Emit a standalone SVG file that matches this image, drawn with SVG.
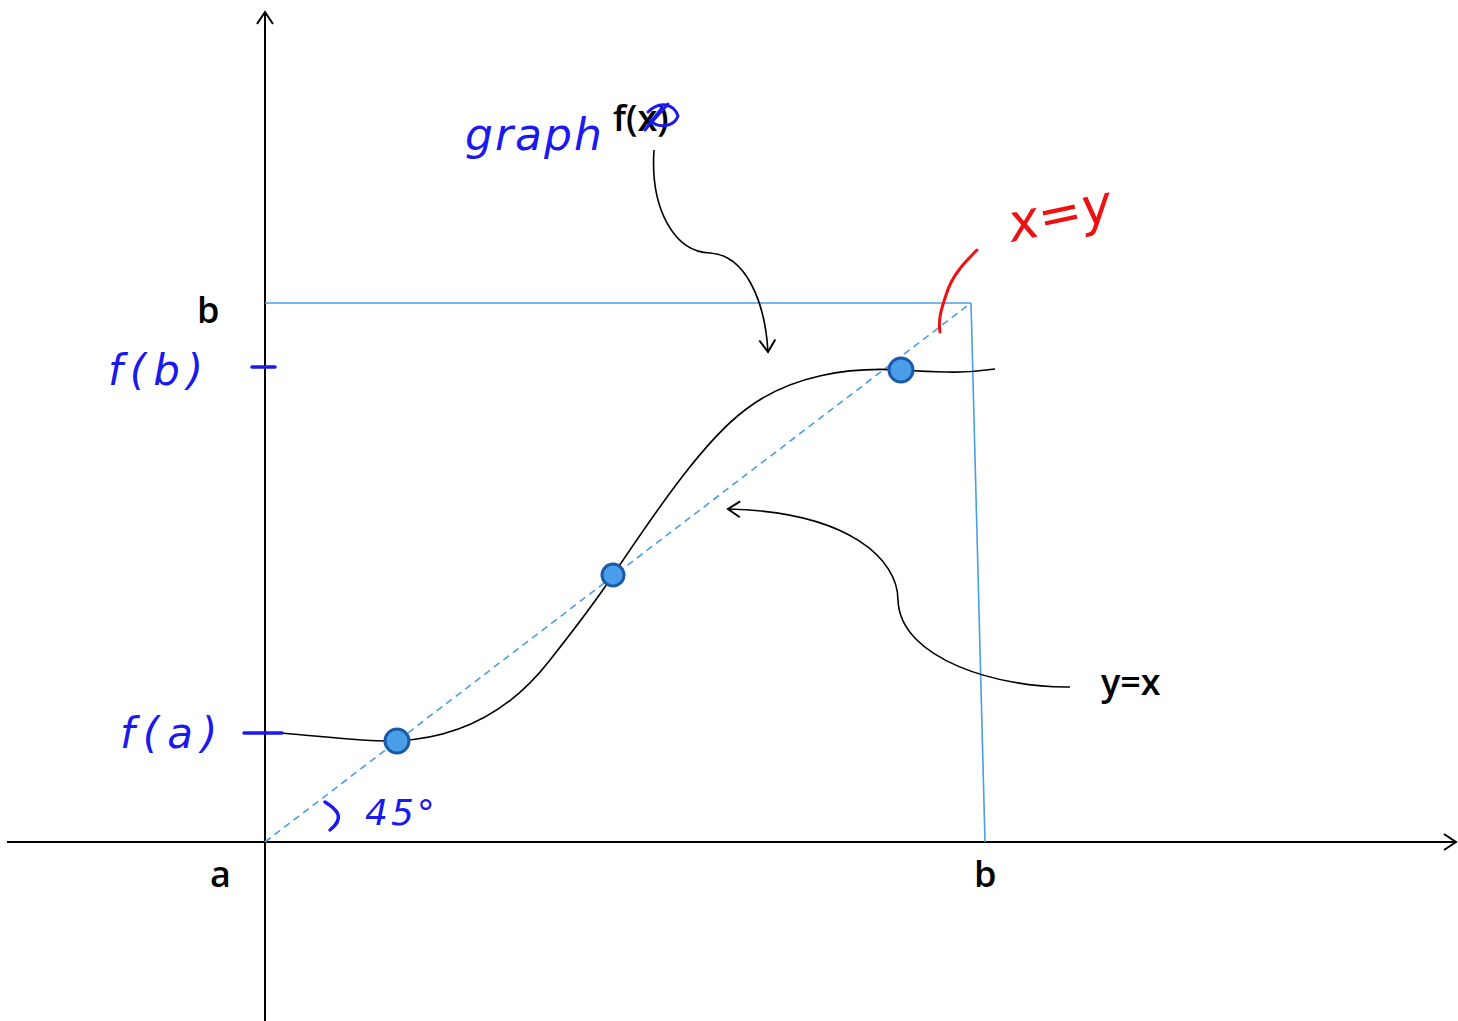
<svg xmlns="http://www.w3.org/2000/svg" width="1458" height="1021" viewBox="0 0 1458 1021">
<style>
.ax{stroke:#000;stroke-width:2;fill:none}
.bl{stroke:#4a9de8;stroke-width:1.6;fill:none}
.cur{stroke:#000;stroke-width:1.6;fill:none}
.pt{fill:#4a9de8;stroke:#1a5aa8;stroke-width:3}
.lbl{font-family:"Open Sans","Liberation Sans",sans-serif;font-size:36px;font-weight:600;fill:#000}
.hw{font-family:"DejaVu Sans","Liberation Sans",sans-serif;fill:#1a1aee;font-style:italic}
.tick{stroke:#1a1aee;stroke-width:3.5;stroke-linecap:round}
</style>
<defs>
<marker id="ah" markerWidth="20" markerHeight="20" refX="14" refY="10" orient="auto" markerUnits="userSpaceOnUse">
<path d="M2,2 L14,10 L2,18" fill="none" stroke="#000" stroke-width="2"/>
</marker>
</defs>
<g id="axes">
<line class="ax" x1="265" y1="1021" x2="265" y2="12" marker-end="url(#ah)"/>
<line class="ax" x1="7" y1="842" x2="1456" y2="842" marker-end="url(#ah)"/>
</g>
<g id="box">
<line class="bl" x1="265" y1="303" x2="971" y2="303"/>
<line class="bl" x1="971" y1="303" x2="985" y2="842"/>
<line class="bl" x1="265" y1="842" x2="971" y2="303" stroke-dasharray="7,5"/>
</g>
<g id="curve">
<path class="cur" d="M 281 733 C 330 737 365 742 397 741 C 460 738 510 712 550 660 C 580 622 598 598 613 575 C 660 505 705 440 745 410 C 790 375 850 367 900 370 C 940 372 960 374 995 369"/>
</g>
<g id="connectors">
<path class="cur" d="M 654 150 C 650 210 675 252 710 253 C 745 255 765 300 768 352" marker-end="url(#ah)"/>
<path class="cur" d="M 1070 687 C 1000 688 900 660 898 600 C 898 560 850 512 728 509" marker-end="url(#ah)"/>
</g>
<g id="points">
<circle class="pt" cx="397" cy="741" r="12"/>
<circle class="pt" cx="613" cy="575" r="11"/>
<circle class="pt" cx="901" cy="370" r="12"/>
</g>
<g id="labels">
<text class="lbl" x="197" y="323">b</text>
<text class="lbl" x="210" y="887">a</text>
<text class="lbl" x="974" y="887">b</text>
<text class="lbl" x="1101" y="695">y=x</text>
<text class="lbl" x="613" y="131">f(x)</text>
</g>
<g id="handwriting">
<path d="M 648 112 C 660 100 674 104 678 116 C 674 127 658 129 650 120 M 650 124 L 668 104 M 645 130 L 662 108" fill="none" stroke="#1a1aee" stroke-width="3" stroke-linecap="round"/>
<text class="hw" x="465" y="150" font-size="44" letter-spacing="2">graph</text>
<text class="hw" x="108" y="385" font-size="42" letter-spacing="7">f(b)</text>
<line class="tick" x1="252" y1="367" x2="275" y2="367"/>
<text class="hw" x="120" y="748" font-size="42" letter-spacing="8">f(a)</text>
<line class="tick" x1="244" y1="733" x2="282" y2="733"/>
<path d="M 325 802 C 338 810 345 818 330 830" fill="none" stroke="#1a1aee" stroke-width="3.5" stroke-linecap="round"/>
<text class="hw" x="365" y="825" font-size="36" letter-spacing="3">45°</text>
<text x="1012" y="242" font-family="DejaVu Sans,sans-serif" font-style="italic" font-size="52" fill="#ee1111" transform="rotate(-12 1012 242)">x=y</text>
<path d="M 977 250 C 965 262 952 275 946 295 C 941 310 938 320 940 332" fill="none" stroke="#ee1111" stroke-width="3" stroke-linecap="round"/>
</g>
</svg>
